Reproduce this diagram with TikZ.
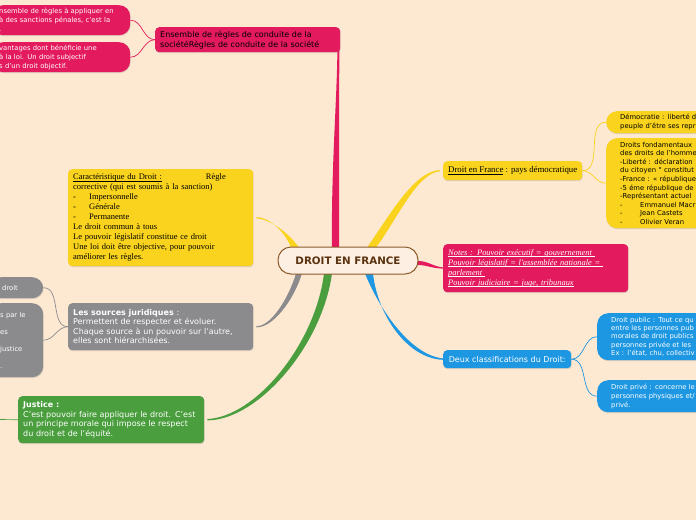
\documentclass[tikz,border=0pt]{standalone}
\usepackage{fontspec}
\setmainfont{DejaVu Sans}
\newfontfamily\serifont{Liberation Serif}
\usetikzlibrary{shadows}

\definecolor{fond}{RGB}{253,233,210}
\definecolor{centre}{RGB}{253,240,226}
\definecolor{brun}{RGB}{139,90,43}
\definecolor{brunfonce}{RGB}{90,50,15}
\definecolor{rose}{RGB}{228,26,94}
\definecolor{jaune}{RGB}{249,211,30}
\definecolor{gris}{RGB}{139,139,141}
\definecolor{vert}{RGB}{74,158,62}
\definecolor{bleu}{RGB}{30,151,226}

\newsavebox\soulbox
\newcommand\souligne[1]{\sbox\soulbox{#1}\mbox{\rlap{\rule[-1.4pt]{\wd\soulbox}{0.4pt}}\usebox\soulbox}}

\pgfdeclarelayer{background}
\pgfsetlayers{background,main}

\tikzset{
	boite/.style={rounded corners=4pt, inner xsep=5pt, inner ysep=2pt, align=left, anchor=north west,
		text=white, font=\fontsize{8}{9.5}\selectfont,
		drop shadow={opacity=0.25, shadow xshift=0.5pt, shadow yshift=-1pt}},
	feuille/.style={boite, rounded corners=11pt, inner xsep=14pt, font=\fontsize{6.8}{8.6}\selectfont},
	serif/.style={font=\serifont\fontsize{8.5}{10}\selectfont},
	lien/.style={line width=0.7pt},
}

\begin{document}
\begin{tikzpicture}[x=1pt,y=-1pt]
	\begin{pgfonlayer}{background}
		\fill[fond] (0,0) rectangle (696,520);
	\end{pgfonlayer}
	\useasboundingbox (0,0) rectangle (696,520);

	\node [draw=brun, line width=1pt, fill=centre, rounded corners=13pt, minimum width=140pt, minimum height=27pt,
		text=brunfonce, font=\bfseries\fontsize{10.3}{12}\selectfont] (racine) at (348,260.5) {DROIT EN FRANCE};

	% haut
	\node [boite, fill=rose, text=black, text width=175pt, minimum height=25pt, font=\fontsize{8}{10}\selectfont] (regles) at (155,27)
		{Ensemble de règles de conduite de la\\sociétéRègles de conduite de la société};
	\node [feuille, fill=rose, inner xsep=7pt, text width=124pt, minimum height=30pt, font=\fontsize{6.8}{9}\selectfont] (roseA) at (-8,5)
		{nsemble de règles à appliquer en\\à des sanctions pénales, c'est la\\.};
	\node [feuille, fill=rose, inner xsep=7pt, text width=124pt, minimum height=30pt, font=\fontsize{6.8}{9}\selectfont] (roseB) at (-8,42)
		{vantages dont bénéficie une\\à la loi. Un droit subjectif\\s d'un droit objectif.};

	% gauche
	\node [boite, fill=jaune, text=black, serif, text width=175pt, minimum height=97pt] (caract) at (68,169)
		{\souligne{Caractéristique du Droit :}\hspace{44pt}Règle\\
		corrective (qui est soumis à la sanction)\\
		\makebox[16pt][l]{-}Impersonnelle\\
		\makebox[16pt][l]{-}Générale\\
		\makebox[16pt][l]{-}Permanente\\
		Le droit commun à tous\\
		Le pouvoir législatif constitue ce droit\\
		Une loi doit être objective, pour pouvoir\\
		améliorer les règles.};
	\node [boite, fill=gris, text width=175pt, minimum height=47pt] (sources) at (68,303)
		{\textbf{Les sources juridiques} :\\Permettent de respecter et évoluer.\\Chaque source à un pouvoir sur l'autre,\\elles sont hiérarchisées.};
	\node [feuille, fill=gris, inner xsep=12pt, text width=29pt, minimum height=21pt] (grisA) at (-10,277) {droit};
	\node [feuille, fill=gris, inner xsep=10pt, text width=33pt, minimum height=74pt, font=\fontsize{6.8}{17}\selectfont] (grisB) at (-10,303)
		{s par le\\es\\justice\\.};
	\node [boite, fill=vert, text width=176pt, minimum height=47pt] (justice) at (18,396)
		{\textbf{Justice :}\\C'est pouvoir faire appliquer le droit. C'est\\un principe morale qui impose le respect\\du droit et de l'équité.};
	\coordinate (horsA) at (-5,419.5);

	% droite
	\node [boite, fill=jaune, text=black, font=\serifont\fontsize{8.8}{10}\selectfont, minimum width=139pt, minimum height=19pt] (france) at (443,161)
		{\souligne{Droit en France} : pays démocratique};
	\node [feuille, fill=jaune, text=black, text width=90pt, minimum height=22pt] (democratie) at (606,111)
		{Démocratie : liberté d\\peuple d'être ses repr};
	\node [feuille, fill=jaune, text=black, text width=90pt, minimum height=90pt] (fondamentaux) at (606,138)
		{Droits fondamentaux\\des droits de l'homme\\-Liberté : déclaration\\du citoyen ° constitut\\-France : « république\\-5 éme république de\\-Représentant actuel\\
		\makebox[20pt][l]{-}Emmanuel Macr\\\makebox[20pt][l]{-}Jean Castets\\\makebox[20pt][l]{-}Olivier Veran};
	\node [boite, fill=rose, font=\serifont\itshape\fontsize{8.4}{10}\selectfont, text width=175pt, minimum height=48pt] (notes) at (443,244)
		{\souligne{Notes : Pouvoir exécutif = gouvernement }\\\souligne{Pouvoir législatif = l'assemblée nationale = }\\\souligne{parlement }\\\souligne{Pouvoir judiciaire = juge, tribunaux}};
	\node [boite, fill=bleu, minimum width=128pt, minimum height=18pt] (classif) at (443,350) {Deux classifications du Droit:};
	\node [feuille, fill=bleu, text width=95pt, minimum height=47pt, font=\fontsize{6.8}{8.3}\selectfont] (public) at (597,313)
		{Droit public : Tout ce qu\\entre les personnes pub\\morales de droit publics\\personnes privée et les\\Ex : l'état, chu, collectiv};
	\node [feuille, fill=bleu, text width=95pt, minimum height=32pt, font=\fontsize{6.8}{8.8}\selectfont] (prive) at (597,380)
		{Droit privé : concerne le\\personnes physiques et/\\privé.};

	\begin{pgfonlayer}{background}
		% branches principales
		\fill[rose] ([xshift=-16pt,yshift=-1pt]racine.north) .. controls (331,170) and (337,100) .. ([xshift=-3pt,yshift=3pt]regles.south east)
			-- ([xshift=-1pt,yshift=3pt]regles.south east) .. controls (339,100) and (339,170) .. ([xshift=-9pt,yshift=-1pt]racine.north) -- cycle;
		\fill[jaune] ([xshift=-57pt,yshift=-1pt]racine.north) .. controls (284,230) and (268,217) .. ([xshift=3pt,yshift=0.6pt]caract.east)
			-- ([xshift=3pt,yshift=-0.6pt]caract.east) .. controls (270,219.5) and (288,232) .. ([xshift=-49pt,yshift=-1pt]racine.north) -- cycle;
		\fill[gris] ([xshift=-52pt,yshift=1pt]racine.south) .. controls (288,300) and (270,327) .. ([xshift=3pt,yshift=0.6pt]sources.east)
			-- ([xshift=3pt,yshift=-0.6pt]sources.east) .. controls (272,328) and (293,302) .. ([xshift=-46pt,yshift=1pt]racine.south) -- cycle;
		\fill[vert] ([xshift=-24pt,yshift=1pt]racine.south) .. controls (315,345) and (255,417) .. ([xshift=3pt,yshift=0.7pt]justice.east)
			-- ([xshift=3pt,yshift=-0.7pt]justice.east) .. controls (258,420) and (322,346) .. ([xshift=-16pt,yshift=1pt]racine.south) -- cycle;
		\fill[jaune] ([xshift=19pt,yshift=-1pt]racine.north) .. controls (390,215) and (414,171) .. ([xshift=-3pt,yshift=0.6pt]france.west)
			-- ([xshift=-3pt,yshift=-0.6pt]france.west) .. controls (417,173) and (398,218) .. ([xshift=28pt,yshift=-1pt]racine.north) -- cycle;
		\fill[rose] ([xshift=-1pt,yshift=-0.5pt]racine.east) .. controls (430,261) and (432,267) .. ([xshift=3pt,yshift=0.5pt]notes.west)
			-- ([xshift=3pt,yshift=-0.5pt]notes.west) .. controls (430,268.5) and (428,265) .. ([xshift=-1pt,yshift=-4.5pt]racine.east) -- cycle;
		\fill[bleu] ([xshift=17pt,yshift=1pt]racine.south) .. controls (382,315) and (414,358) .. ([xshift=3pt,yshift=0.6pt]classif.west)
			-- ([xshift=3pt,yshift=-0.6pt]classif.west) .. controls (410,361) and (378,318) .. ([xshift=25pt,yshift=1pt]racine.south) -- cycle;
		% liens vers les feuilles
		\draw[lien, rose] (regles.west) to[out=180, in=0] (roseA.east);
		\draw[lien, rose] (regles.west) to[out=180, in=0] (roseB.east);
		\draw[lien, gris] (sources.west) to[out=180, in=0] (grisA.east);
		\draw[lien, gris] (sources.west) to[out=180, in=0] (grisB.east);
		\draw[lien, vert] (justice.west) -- (horsA);
		\draw[lien, jaune] (france.east) to[out=0, in=180] (democratie.west);
		\draw[lien, jaune] (france.east) to[out=0, in=180] (fondamentaux.west);
		\draw[lien, bleu] (classif.east) to[out=0, in=180] (public.west);
		\draw[lien, bleu] (classif.east) to[out=0, in=180] (prive.west);
	\end{pgfonlayer}
\end{tikzpicture}
\end{document}
